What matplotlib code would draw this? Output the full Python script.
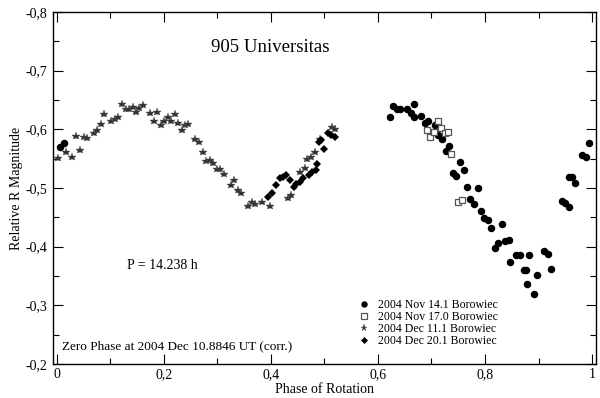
import numpy as np
import matplotlib
matplotlib.use("Agg")
import matplotlib.pyplot as plt
from matplotlib.ticker import MultipleLocator, FuncFormatter

plt.rcParams["font.family"] = ["Liberation Serif", "DejaVu Serif"]

# ─── Data: phase / relative R magnitude per session ──────────────────────────
nov14_phase = [0.006, 0.014,
               0.622, 0.629, 0.635, 0.642, 0.655, 0.662, 0.667, 0.668, 0.680, 0.687,
               0.693, 0.700, 0.707, 0.713, 0.720, 0.727, 0.733, 0.740, 0.746, 0.753,
               0.760, 0.766, 0.772, 0.779, 0.786, 0.792, 0.798, 0.805, 0.812, 0.819,
               0.825, 0.832, 0.838, 0.845, 0.846, 0.858, 0.865, 0.872, 0.877, 0.878,
               0.883, 0.891, 0.898, 0.911, 0.917, 0.924, 0.943, 0.950, 0.957, 0.957,
               0.963, 0.969, 0.982, 0.989, 0.995]
nov14_mag = [-0.570, -0.577,
             -0.621, -0.640, -0.634, -0.634, -0.634, -0.628, -0.643, -0.621, -0.623, -0.611,
             -0.614, -0.594, -0.608, -0.591, -0.584, -0.563, -0.571, -0.526, -0.521, -0.544,
             -0.531, -0.501, -0.482, -0.473, -0.500, -0.460, -0.449, -0.446, -0.431, -0.397,
             -0.406, -0.438, -0.410, -0.412, -0.374, -0.386, -0.386, -0.360, -0.361, -0.337,
             -0.386, -0.319, -0.352, -0.393, -0.388, -0.362, -0.477, -0.475, -0.467, -0.519,
             -0.519, -0.508, -0.556, -0.552, -0.576]

nov17_phase = [0.692, 0.698, 0.704, 0.712, 0.718, 0.725, 0.730, 0.737, 0.750, 0.757]
nov17_mag = [-0.599, -0.587, -0.596, -0.615, -0.603, -0.594, -0.596, -0.558, -0.476, -0.480]

dec11_phase = [0.003, 0.017, 0.029, 0.036, 0.043, 0.050, 0.056, 0.069, 0.075, 0.083,
               0.089, 0.101, 0.109, 0.115, 0.122, 0.129, 0.135, 0.142, 0.148, 0.154,
               0.161, 0.174, 0.181, 0.187, 0.194, 0.200, 0.207, 0.213, 0.220, 0.227,
               0.233, 0.240, 0.246, 0.259, 0.266, 0.273, 0.279, 0.286, 0.292, 0.299,
               0.305, 0.312, 0.325, 0.331, 0.338, 0.345, 0.358, 0.364, 0.371, 0.384,
               0.398, 0.432, 0.438, 0.454, 0.463, 0.468, 0.474, 0.482, 0.492, 0.515,
               0.519]
dec11_mag = [-0.551, -0.561, -0.552, -0.589, -0.565, -0.587, -0.585, -0.594, -0.598, -0.609,
             -0.626, -0.614, -0.617, -0.621, -0.644, -0.634, -0.634, -0.638, -0.630, -0.637,
             -0.642, -0.627, -0.614, -0.630, -0.607, -0.614, -0.621, -0.615, -0.626, -0.611,
             -0.598, -0.607, -0.609, -0.583, -0.578, -0.562, -0.546, -0.548, -0.543, -0.533,
             -0.532, -0.524, -0.505, -0.514, -0.497, -0.491, -0.469, -0.476, -0.473, -0.476,
             -0.470, -0.483, -0.488, -0.527, -0.534, -0.550, -0.553, -0.561, -0.584, -0.604,
             -0.600]

dec20_phase = [0.395, 0.403, 0.409, 0.417, 0.423, 0.429, 0.435, 0.443, 0.446, 0.454,
               0.460, 0.472, 0.477, 0.485, 0.487, 0.489, 0.494, 0.500, 0.507, 0.513,
               0.519]
dec20_mag = [-0.484, -0.492, -0.505, -0.517, -0.518, -0.523, -0.513, -0.501, -0.507, -0.510,
             -0.517, -0.523, -0.527, -0.530, -0.541, -0.578, -0.581, -0.567, -0.594, -0.590,
             -0.587]

labels = ["2004 Nov 14.1 Borowiec", "2004 Nov 17.0 Borowiec",
          "2004 Dec 11.1 Borowiec", "2004 Dec 20.1 Borowiec"]

# ─── Figure ──────────────────────────────────────────────────────────────────
fig = plt.figure(figsize=(6.0, 3.98), dpi=100)
ax = fig.add_axes([0.0875, 0.0854, 0.9055, 0.8845])

ax.plot(nov14_phase, nov14_mag, "o", color="black", ms=5.4, mew=0, label=labels[0])
ax.plot(nov17_phase, nov17_mag, "s", mfc="white", mec="#555555", ms=4.5, mew=0.9, label=labels[1])
ax.plot(dec11_phase, dec11_mag, "*", color="#333333", ms=6.2, mew=0.3, mec="#555555", label=labels[2])
ax.plot(dec20_phase, dec20_mag, "D", color="black", ms=4.2, mew=0, label=labels[3])

ax.set_xlim(-0.008, 1.007)
ax.set_ylim(-0.2, -0.8)

# decimal comma tick labels
fmt = FuncFormatter(lambda v, p: f"{v:g}".replace(".", ","))
ax.xaxis.set_major_locator(MultipleLocator(0.2))
ax.xaxis.set_minor_locator(MultipleLocator(0.1))
ax.yaxis.set_major_locator(MultipleLocator(0.1))
ax.yaxis.set_minor_locator(MultipleLocator(0.05))
ax.xaxis.set_major_formatter(fmt)
ax.yaxis.set_major_formatter(fmt)
ax.tick_params(which="both", direction="in", top=True, right=True, labelsize=10, width=0.8)
ax.tick_params(which="major", length=7)
ax.tick_params(which="minor", length=4)
ax.tick_params(axis="x", pad=3)
for s in ax.spines.values():
    s.set_linewidth(1.0)

ax.set_xlabel("Phase of Rotation", fontsize=10, labelpad=1)
ax.set_ylabel("Relative R Magnitude", fontsize=10, labelpad=2)

ax.text(0.398, -0.740, "905 Universitas", fontsize=13.5, ha="center", va="center")
ax.text(0.132, -0.368, "P = 14.238 h", fontsize=10, ha="left", va="center")
ax.text(0.010, -0.230, "Zero Phase at 2004 Dec 10.8846 UT (corr.)", fontsize=9.5,
        ha="left", va="center")

ax.legend(loc="upper left", bbox_to_anchor=(0.565, 0.185), frameon=False,
          fontsize=8.5, handlelength=0.8, handletextpad=0.8, labelspacing=0.0,
          borderpad=0, borderaxespad=0, markerscale=0.85)

fig.savefig("out.png", dpi=100)
